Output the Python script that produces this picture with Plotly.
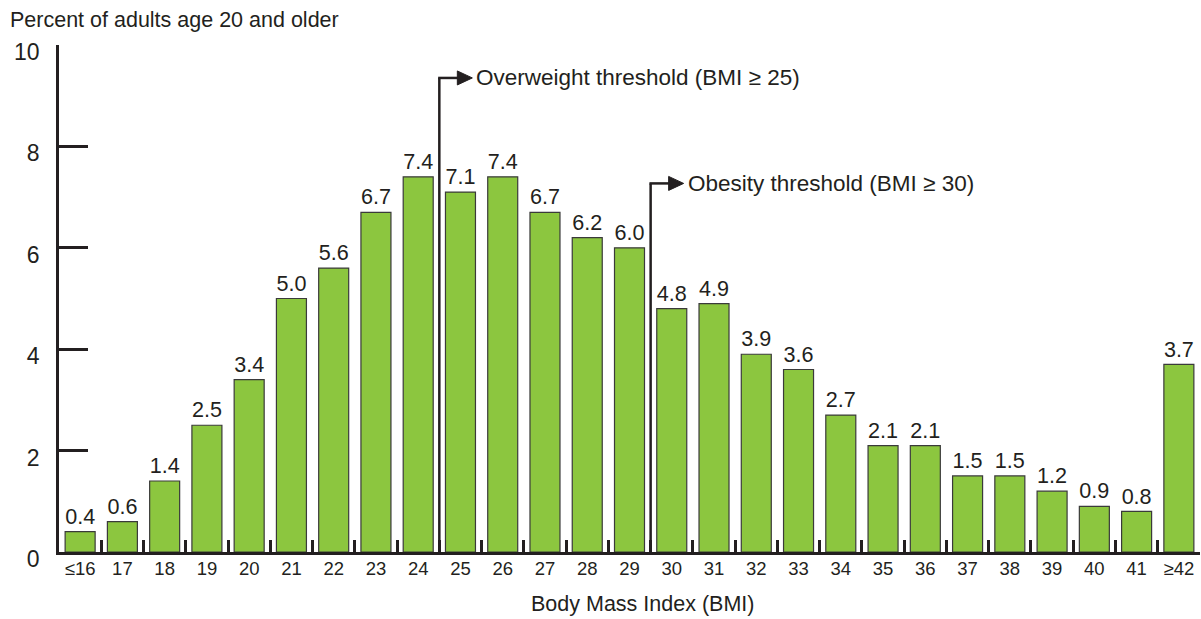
import plotly.graph_objects as go

categories = ["≤16"] + [str(i) for i in range(17, 42)] + ["≥42"]
values = [0.4, 0.6, 1.4, 2.5, 3.4, 5.0, 5.6, 6.7, 7.4, 7.1, 7.4, 6.7, 6.2, 6.0,
          4.8, 4.9, 3.9, 3.6, 2.7, 2.1, 2.1, 1.5, 1.5, 1.2, 0.9, 0.8, 3.7]
y_ticks = [0, 2, 4, 6, 8, 10]

thresholds = [
    {"label": "Overweight threshold (BMI ≥ 25)", "cat": "25", "level": 9.35},
    {"label": "Obesity threshold (BMI ≥ 30)", "cat": "30", "level": 7.27},
]

FONT = "Liberation Sans, Arial, Helvetica, sans-serif"
INK = "#231f20"

fig = go.Figure()
fig.add_trace(go.Bar(
    x=categories, y=values,
    marker=dict(color="#8cc63f", line=dict(color="#3a3a3a", width=1.2)),
    text=[f"{v:.1f}" for v in values], textposition="outside",
    textfont=dict(size=22, color=INK, family=FONT),
    cliponaxis=False, hoverinfo="skip",
))

shapes = []
annotations = []
for t in thresholds:
    xb = categories.index(t["cat"]) - 0.5
    shapes.append(dict(type="line", xref="x", yref="y", x0=xb, x1=xb, y0=0, y1=t["level"],
                       line=dict(color=INK, width=2.5)))
    shapes.append(dict(type="path", xref="x", yref="y", xsizemode="pixel", ysizemode="pixel",
                       xanchor=xb, yanchor=t["level"], path="M-1.2,0 L19,0",
                       line=dict(color=INK, width=2.5)))
    shapes.append(dict(type="path", xref="x", yref="y", xsizemode="pixel", ysizemode="pixel",
                       xanchor=xb, yanchor=t["level"], path="M18,7 L33,0 L18,-7 Z",
                       fillcolor=INK, line=dict(color=INK, width=1)))
    annotations.append(dict(xref="x", yref="y", x=xb, y=t["level"], xshift=35, text=t["label"],
                            xanchor="left", yanchor="middle", showarrow=False,
                            font=dict(size=22.5, color=INK, family=FONT)))

annotations.append(dict(xref="paper", yref="paper", x=-0.0447, y=1.0, yshift=11,
                        text="Percent of adults age 20 and older", xanchor="left",
                        yanchor="bottom", showarrow=False,
                        font=dict(size=21.5, color=INK, family=FONT)))
annotations.append(dict(xref="paper", yref="paper", x=0.511, y=0, yshift=-38,
                        text="Body Mass Index (BMI)", xanchor="center", yanchor="top",
                        showarrow=False, font=dict(size=21.5, color=INK, family=FONT)))

fig.update_layout(
    width=1201, height=619,
    margin=dict(l=59, r=1, t=45, b=67),
    paper_bgcolor="white", plot_bgcolor="white",
    showlegend=False, bargap=0.29,
    shapes=shapes, annotations=annotations,
    font=dict(family=FONT, color=INK),
)
fig.update_xaxes(
    type="category", categoryorder="array", categoryarray=categories,
    range=[-0.5, len(categories) - 0.5], tickson="boundaries",
    showline=True, linecolor=INK, linewidth=3,
    ticks="inside", ticklen=12, tickwidth=2.5, tickcolor=INK,
    showgrid=False, zeroline=False, ticklabelstandoff=-2,
    tickfont=dict(size=18.5, color=INK, family=FONT),
)
fig.update_yaxes(
    range=[0, 10], tickvals=y_ticks, ticktext=[str(v) for v in y_ticks],
    showline=True, linecolor=INK, linewidth=2.5,
    ticks="inside", ticklen=29, tickwidth=2.5, tickcolor=INK,
    showgrid=False, zeroline=False, ticklabelstandoff=12, ticklabelshift=7,
    tickfont=dict(size=23, color=INK, family=FONT),
)
fig.write_html("out.html", config={"displayModeBar": False},
               post_script="document.body.style.margin='0';document.body.style.overflow='hidden';")
